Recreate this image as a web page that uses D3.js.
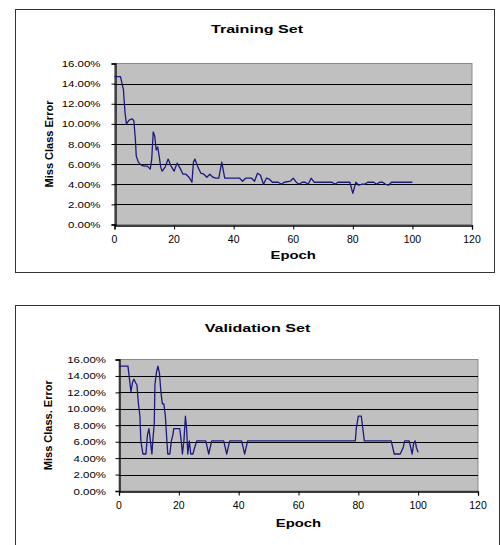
<!DOCTYPE html>
<html>
<head>
<meta charset="utf-8">
<script src="https://cdnjs.cloudflare.com/ajax/libs/d3/7.8.5/d3.min.js"></script>
<style>
  body { margin: 0; background: #fff; }
  svg text { font-family: Arial, "Liberation Sans", sans-serif; fill: #000; }
</style>
</head>
<body>
<div id="chart"></div>
<script>
// values (epoch, error %)
var trainEpochs = [0, 1, 2, 3, 3.5, 4, 5, 6, 6.5, 7, 7.3, 8, 9, 10, 11, 12, 12.5, 13, 13.5, 14, 14.5, 15, 15.5, 16, 17, 18, 19, 20, 21, 22, 23, 24, 25, 26, 26.5, 27, 28, 29, 30, 31, 32, 33, 34, 35, 36, 37, 38, 42, 43, 44, 46, 47, 48, 49, 50, 51, 52, 53, 55, 56, 57, 59, 60, 61, 62, 63, 64, 65, 66, 67, 73, 74, 75, 79, 80, 81, 82, 83, 84, 85, 87, 88, 89, 90, 91, 92, 93, 100];
var trainError = [14.7, 14.7, 14.7, 13.4, 11.2, 10.0, 10.4, 10.5, 10.3, 8.5, 6.8, 6.2, 5.9, 5.8, 5.8, 5.5, 6.5, 9.2, 8.8, 7.4, 7.7, 6.8, 5.7, 5.3, 5.7, 6.5, 5.8, 5.3, 6.1, 5.6, 5.0, 5.0, 4.7, 4.2, 6.2, 6.5, 5.7, 5.1, 5.0, 4.7, 5.0, 4.7, 4.6, 4.6, 6.2, 4.6, 4.6, 4.6, 4.3, 4.6, 4.6, 4.3, 5.1, 4.9, 4.0, 4.6, 4.5, 4.2, 4.2, 4.0, 4.2, 4.3, 4.6, 4.2, 4.0, 4.2, 4.2, 4.0, 4.6, 4.2, 4.2, 4.0, 4.2, 4.2, 3.1, 4.2, 3.9, 4.0, 4.0, 4.2, 4.2, 4.0, 4.2, 4.2, 4.0, 3.9, 4.2, 4.2];

var valEpochs = [0, 3, 3.5, 4, 4.5, 5, 5.5, 6, 6.5, 7, 7.3, 8, 9, 9.5, 10, 10.5, 11, 11.3, 11.8, 12, 12.5, 13, 13.5, 14, 14.5, 15, 15.5, 16, 16.3, 17, 17.5, 18, 18.3, 20.3, 20.8, 21.2, 21.7, 22.2, 22.6, 23, 23.5, 24, 24.7, 25.3, 26, 29, 30, 31, 35, 36, 37, 41, 42, 43, 79, 79.3, 80, 81, 81.5, 82, 91, 92, 94, 95, 95.5, 97, 98, 98.5, 99, 99.4, 100];
var valError = [15.2, 15.2, 13.6, 12.1, 13.2, 13.6, 13.2, 12.9, 10.6, 9.1, 6.1, 4.5, 4.5, 6.8, 7.6, 6.1, 4.5, 6.1, 8.3, 12.9, 14.4, 15.2, 14.4, 12.1, 10.6, 10.6, 9.1, 6.1, 4.5, 4.5, 6.1, 6.8, 7.6, 7.6, 6.1, 4.5, 6.1, 9.1, 7.6, 4.5, 6.1, 4.5, 4.5, 5.3, 6.1, 6.1, 4.5, 6.1, 6.1, 4.5, 6.1, 6.1, 4.5, 6.1, 6.1, 7.6, 9.1, 9.1, 7.6, 6.1, 6.1, 4.5, 4.5, 5.3, 6.1, 6.1, 4.5, 5.8, 6.1, 5.3, 4.7];

var yTicks = [0, 2, 4, 6, 8, 10, 12, 14, 16];
var xTicks = [0, 20, 40, 60, 80, 100, 120];

var svg = d3.select("#chart").append("svg")
    .attr("width", 500)
    .attr("height", 545);

function zip(xs, ys) {
    return xs.map(function(x, i) { return { epoch: x, err: ys[i] / 100 }; });
}

// stretched text, the source picture is wider than tall
function label(g, x, y, txt, opts) {
    var t = g.append("text")
        .attr("transform", "translate(" + x + "," + y + ")" + (opts.rotate ? " rotate(-90)" : "") + " scale(" + (opts.sx || 1) + ",1)")
        .attr("text-anchor", opts.anchor || "middle")
        .style("font-size", opts.size + "px")
        .style("font-weight", opts.bold ? "bold" : "normal")
        .text(txt);
    return t;
}

function drawPanel(cfg) {
    var g = svg.append("g");

    g.append("rect")
        .attr("x", cfg.box[0] + 0.5).attr("y", cfg.box[1] + 0.5)
        .attr("width", cfg.box[2]).attr("height", cfg.box[3])
        .attr("fill", "#fff")
        .attr("stroke", "#333")
        .attr("stroke-width", 1);

    var x = d3.scaleLinear().domain([0, 120]).range([cfg.plot[0], cfg.plot[2]]);
    var y = d3.scaleLinear().domain([0, 0.16]).range([cfg.plot[3], cfg.plot[1]]);

    g.append("rect")
        .attr("x", x(0)).attr("y", y(0.16))
        .attr("width", x(120) - x(0)).attr("height", y(0) - y(0.16))
        .attr("fill", "#c0c0c0")
        .attr("stroke", "#8a8a8a");

    g.selectAll(".grid")
        .data(yTicks.slice(1, -1))
        .enter().append("line")
        .attr("x1", x(0)).attr("x2", x(120))
        .attr("y1", function(d) { return Math.round(y(d / 100)) + 0.5; })
        .attr("y2", function(d) { return Math.round(y(d / 100)) + 0.5; })
        .attr("stroke", "#000")
        .attr("stroke-width", 1.2);

    var xAxis = g.append("g")
        .attr("transform", "translate(0," + (Math.round(y(0)) + 0.5) + ")")
        .call(d3.axisBottom(x).tickValues(xTicks).tickSize(4).tickFormat(""));
    var yAxis = g.append("g")
        .attr("transform", "translate(" + (Math.round(x(0)) + 0.5) + ",0)")
        .call(d3.axisLeft(y).tickValues(yTicks.map(function(d) { return d / 100; })).tickSize(4).tickFormat(""));
    [xAxis, yAxis].forEach(function(a) {
        a.select(".domain").attr("stroke", "#000").attr("stroke-width", 1.3);
        a.selectAll(".tick line").attr("stroke", "#000");
    });

    xTicks.forEach(function(t) {
        label(g, x(t), y(0) + cfg.xLabelDy, t, { size: 10, sx: 1.05 });
    });
    yTicks.forEach(function(t) {
        label(g, x(0) - cfg.yLabelGap, y(t / 100) + 3.5, d3.format(".2%")(t / 100), { size: 8.5, sx: 1.35, anchor: "end" });
    });

    var line = d3.line()
        .x(function(d) { return x(d.epoch); })
        .y(function(d) { return y(d.err); });

    g.append("path")
        .datum(zip(cfg.epochs, cfg.errors))
        .attr("d", line)
        .attr("fill", "none")
        .attr("stroke", "#1a1a80")
        .attr("stroke-width", 1.3)
        .attr("stroke-linejoin", "round");

    label(g, cfg.titleX, cfg.titleY, cfg.title, { size: 11.5, bold: true, sx: 1.4 });
    label(g, (x(0) + x(120)) / 2, cfg.epochY, "Epoch", { size: 11, bold: true, sx: 1.35 });
    label(g, cfg.yTitleX, (y(0) + y(0.16)) / 2, cfg.yTitle, { size: 11, bold: true, rotate: true });
}

drawPanel({
    box: [15, 9, 479, 263],
    plot: [114.5, 63.5, 472, 224.5],
    title: "Training Set", titleX: 257, titleY: 32.5,
    epochY: 259, xLabelDy: 18, yLabelGap: 14,
    yTitle: "Miss Class Error", yTitleX: 53,
    epochs: trainEpochs, errors: trainError
});

drawPanel({
    box: [15, 305, 484, 250],
    plot: [119, 359.5, 478, 491],
    title: "Validation Set", titleX: 257.5, titleY: 331.5,
    epochY: 526.5, xLabelDy: 17.5, yLabelGap: 13,
    yTitle: "Miss Class. Error", yTitleX: 52,
    epochs: valEpochs, errors: valError
});
</script>
</body>
</html>
